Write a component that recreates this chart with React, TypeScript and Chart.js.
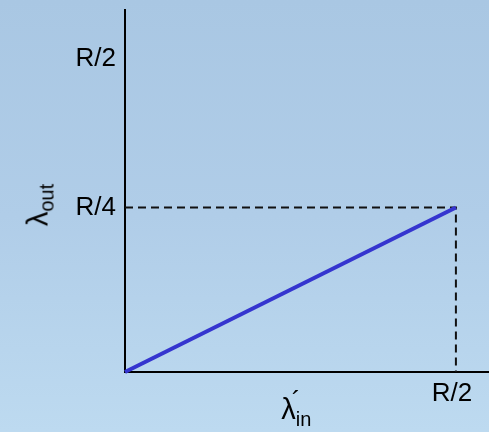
import React, { useEffect, useRef } from "react";
import { Chart, registerables } from "chart.js";

Chart.register(...registerables);

// Throughput curve: output rate vs. offered load (in units of R)
const lambdaIn: number[] = [0, 0.5];
const lambdaOut: number[] = [0, 0.25];

// Dashed guide lines from the end point to both axes
const guideX: number[] = [0, 0.5, 0.5];
const guideY: number[] = [0.25, 0.25, 0];

// Axis tick values and their labels
const yTickValues: number[] = [0.25, 0.5];
const yTickLabels: string[] = ["R/4", "R/2"];
const xTickValues: number[] = [0.5];
const xTickLabels: string[] = ["R/2"];

const AXIS_MAX = 0.55;
const FONT = "'Liberation Sans', Arial, sans-serif";

export default function App() {
  const canvasRef = useRef<HTMLCanvasElement | null>(null);

  useEffect(() => {
    document.body.style.margin = "0";
    const canvas = canvasRef.current;
    if (!canvas) return;

    const chart = new Chart(canvas, {
      type: "scatter",
      data: {
        datasets: [
          {
            label: "throughput",
            data: lambdaIn.map((x, i) => ({ x, y: lambdaOut[i] })),
            showLine: true,
            borderColor: "#3535cf",
            borderWidth: 4,
            pointRadius: 0,
            clip: false,
            order: 0,
          },
          {
            label: "guides",
            data: guideX.map((x, i) => ({ x, y: guideY[i] })),
            showLine: true,
            borderColor: "#111111",
            borderWidth: 2,
            borderDash: [8, 5],
            pointRadius: 0,
            clip: false,
            order: 1,
          },
        ],
      },
      options: {
        animation: false,
        responsive: true,
        maintainAspectRatio: false,
        layout: { padding: { top: 10, right: 0, left: 0, bottom: 0 } },
        plugins: {
          legend: { display: false },
          tooltip: { enabled: false },
        },
        scales: {
          x: {
            type: "linear",
            min: 0,
            max: AXIS_MAX,
            grid: { display: false, drawTicks: false },
            border: { display: true, color: "#000000", width: 2 },
            afterBuildTicks: (scale: any) => {
              scale.ticks = xTickValues.map((value) => ({ value }));
            },
            afterFit: (scale: any) => {
              scale.height = 60;
              scale.paddingLeft = 0;
              scale.paddingRight = 0;
            },
            ticks: {
              padding: 6,
              labelOffset: -4,
              color: "#000000",
              font: { family: FONT, size: 26 },
              callback: (value: any) => {
                const idx = xTickValues.indexOf(Number(value));
                return idx >= 0 ? xTickLabels[idx] : "";
              },
            },
          },
          y: {
            type: "linear",
            min: 0,
            max: AXIS_MAX,
            grid: { display: false, drawTicks: false },
            border: { display: true, color: "#000000", width: 2 },
            afterBuildTicks: (scale: any) => {
              scale.ticks = yTickValues.map((value) => ({ value }));
            },
            afterFit: (scale: any) => {
              scale.width = 125;
              scale.paddingTop = 0;
              scale.paddingBottom = 0;
            },
            ticks: {
              padding: 9,
              color: "#000000",
              font: { family: FONT, size: 26 },
              callback: (value: any) => {
                const idx = yTickValues.indexOf(Number(value));
                if (idx < 0) return "";
                // the top label sits a little below its tick
                return idx === yTickValues.length - 1
                  ? ["", yTickLabels[idx]]
                  : yTickLabels[idx];
              },
            },
          },
        },
      },
    });

    return () => chart.destroy();
  }, []);

  return (
    <div
      style={{
        position: "fixed",
        left: 0,
        top: 0,
        width: 489,
        height: 432,
        background: "linear-gradient(180deg, #a9c7e3 0%, #b0cde8 50%, #bddaf0 100%)",
        fontFamily: FONT,
        color: "#000",
        overflow: "hidden",
      }}
    >
      <canvas ref={canvasRef} style={{ position: "absolute", left: 0, top: 0 }} />
      {/* y-axis title */}
      <div
        style={{
          position: "absolute",
          left: 38,
          top: 205,
          transform: "translate(-50%, -50%) rotate(-90deg)",
          whiteSpace: "nowrap",
          fontSize: 29,
          lineHeight: 1,
        }}
      >
        λ<span style={{ fontSize: 20, position: "relative", top: 6 }}>out</span>
      </div>
      {/* x-axis title */}
      <div
        style={{
          position: "absolute",
          left: 297,
          top: 409,
          transform: "translate(-50%, -50%)",
          whiteSpace: "nowrap",
          fontSize: 29,
          lineHeight: 1,
        }}
      >
        λ
        <span style={{ position: "relative", display: "inline-block", width: 17 }}>
          <span style={{ position: "absolute", left: -4, top: -8, fontSize: 26 }}>´</span>
          <span style={{ fontSize: 20, position: "relative", top: 7 }}>in</span>
        </span>
      </div>
    </div>
  );
}
